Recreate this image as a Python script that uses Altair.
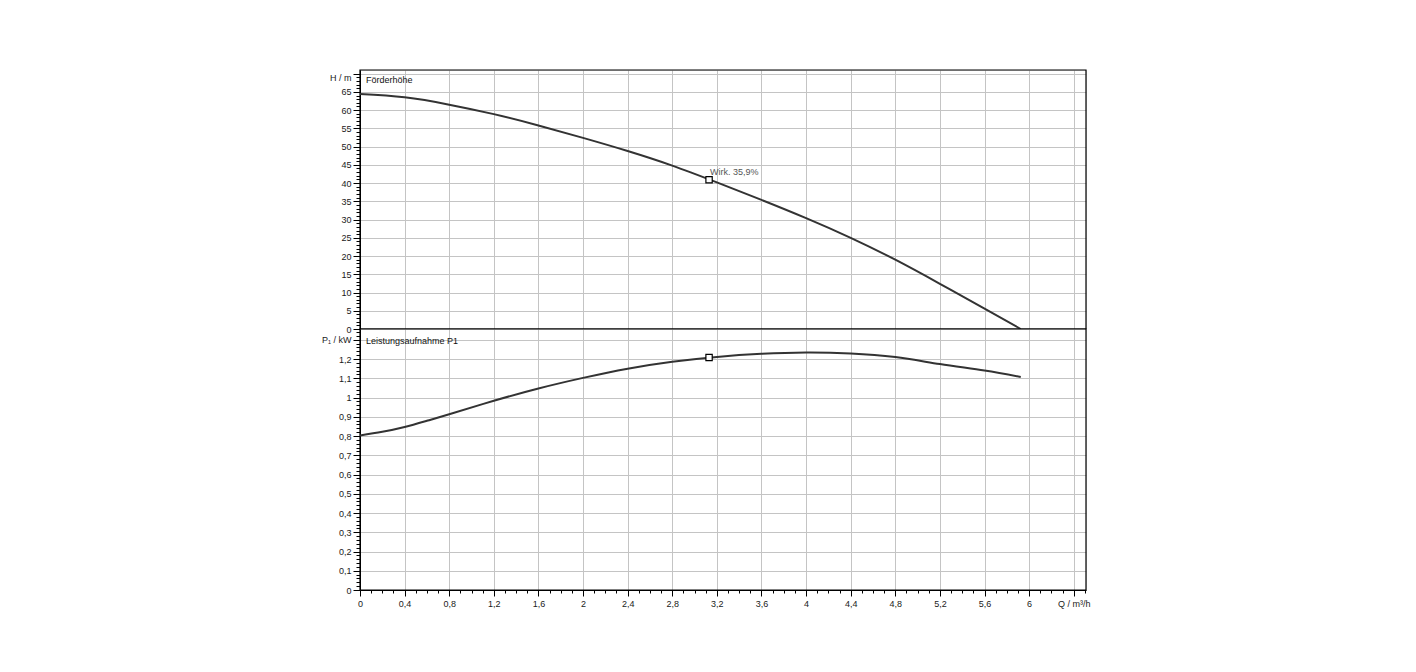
import altair as alt
import pandas as pd

# Förderhöhe H (m) over flow Q (m³/h)
q_h = [0, 0.4, 0.8, 1.2, 1.6, 2.0, 2.4, 2.8, 3.2, 3.6, 4.0, 4.4, 4.8, 5.2, 5.6, 5.925]
h_vals = [64.4, 63.5, 61.5, 58.9, 55.8, 52.4, 48.8, 44.8, 40.2, 35.4, 30.4, 25.0, 19.0, 12.4, 5.6, 0.0]

# Leistungsaufnahme P1 (kW) over flow Q
q_p = [0, 0.2, 0.4, 0.6, 0.8, 1.2, 1.6, 2.0, 2.4, 2.8, 3.2, 3.6, 4.0, 4.4, 4.8, 5.2, 5.6, 5.925]
p_vals = [0.803, 0.822, 0.847, 0.879, 0.913, 0.983, 1.047, 1.102, 1.150, 1.186, 1.211, 1.227, 1.234, 1.229, 1.210, 1.174, 1.140, 1.107]

# operating point
op_q = [3.13]
op_h = [40.9]
op_p = [1.208]
op_label = ["Wirk.  35,9%"]

# axis ranges
q_range = [0, 6.51]
h_range = [0, 71]
p_range = [0, 1.356]

x_ticks = [round(i * 0.1, 1) for i in range(66)]
h_ticks = list(range(0, 71))
p_ticks = [round(i * 0.02, 2) for i in range(68)]

FONT = "Liberation Sans"
LINE = "#333333"
GRID = "#c4c4c4"
W, H1, H2 = 726, 259, 261

df_h = pd.DataFrame({"Q": q_h, "H": h_vals})
df_p = pd.DataFrame({"Q": q_p, "P": p_vals})
df_op = pd.DataFrame({"Q": op_q, "H": op_h, "P": op_p, "label": op_label})
df_t1 = pd.DataFrame({"Q": [0], "H": [70], "label": ["Förderhöhe"]})
df_t2 = pd.DataFrame({"Q": [0], "P": [1.3], "label": ["Leistungsaufnahme P1"]})
df_f1 = pd.DataFrame({"Q": [q_range[0]], "Q2": [q_range[1]], "H": [h_range[0]], "H2": [h_range[1]]})
df_f2 = pd.DataFrame({"Q": [q_range[0]], "Q2": [q_range[1]], "P": [p_range[0]], "P2": [p_range[1]]})

x_major = "abs(datum.value/0.4 - round(datum.value/0.4)) < 0.000001"
h_major = "datum.value % 5 == 0"
p_major = "abs(datum.value*10 - round(datum.value*10)) < 0.000001"

xscale = alt.Scale(domain=q_range, nice=False, zero=False)
hscale = alt.Scale(domain=h_range, nice=False)
pscale = alt.Scale(domain=p_range, nice=False)

x_axis_top = alt.Axis(
    title=None, labels=False, ticks=False, domain=False,
    values=x_ticks, gridColor=GRID, minExtent=0, maxExtent=0, offset=0,
    gridOpacity={"condition": {"test": x_major + " && datum.value > 0", "value": 1}, "value": 0},
)
x_axis_bottom = alt.Axis(
    title=None, values=x_ticks, gridColor=GRID,
    gridOpacity={"condition": {"test": x_major + " && datum.value > 0", "value": 1}, "value": 0},
    tickSize={"condition": {"test": x_major, "value": 6}, "value": 3},
    labelExpr=("(" + x_major + ") ? (abs(datum.value-6.4) < 0.000001 ? 'Q / m³/h' : "
               "replace(format(datum.value, '~g'), '.', ',')) : ''"),
    labelFlush=False, labelOverlap=False, labelPadding=3,
    domainColor="black", tickColor="black",
    labelFont=FONT, labelFontSize=9, labelColor="#1a1a1a",
)
h_axis = alt.Axis(
    title=None, values=h_ticks, gridColor=GRID,
    gridOpacity={"condition": {"test": h_major + " && datum.value > 0", "value": 1}, "value": 0},
    tickSize={"condition": {"test": h_major, "value": 7}, "value": 4},
    labelExpr="(" + h_major + ") ? (datum.value == 70 ? 'H / m' : datum.label) : ''",
    labelOffset={"condition": {"test": "datum.value == 70", "value": 4}, "value": 0},
    labelOverlap=False, labelFlush=False, labelPadding=2,
    domainColor="black", tickColor="black",
    labelFont=FONT, labelFontSize=9, labelColor="#1a1a1a",
)
p_axis = alt.Axis(
    title=None, values=p_ticks, gridColor=GRID,
    gridOpacity={"condition": {"test": p_major + " && datum.value > 0", "value": 1}, "value": 0},
    tickSize={"condition": {"test": p_major, "value": 7}, "value": 4},
    labelExpr=("(" + p_major + ") ? (abs(datum.value-1.3) < 0.000001 ? 'P₁ / kW' : "
               "replace(format(datum.value, '~g'), '.', ',')) : ''"),
    labelOverlap=False, labelFlush=False, labelPadding=2,
    domainColor="black", tickColor="black",
    labelFont=FONT, labelFontSize=9, labelColor="#1a1a1a",
)

XT = alt.X("Q:Q", scale=xscale, axis=x_axis_top)
YT = alt.Y("H:Q", scale=hscale, axis=h_axis)
XB = alt.X("Q:Q", scale=xscale, axis=x_axis_bottom)
YB = alt.Y("P:Q", scale=pscale, axis=p_axis)

top_frame = alt.Chart(df_f1).mark_rect(fill="transparent", stroke="black", strokeWidth=1.2).encode(
    x=XT, x2="Q2:Q", y=YT, y2="H2:Q")
top_line = alt.Chart(df_h).mark_line(color=LINE, strokeWidth=2, interpolate="natural").encode(x=XT, y=YT)
top_pt = alt.Chart(df_op).mark_point(shape="square", size=40, filled=True, fill="white",
                                     stroke="black", strokeWidth=1.2, opacity=1).encode(x=XT, y=YT)
top_lbl = alt.Chart(df_op).mark_text(align="left", baseline="middle", dx=1, dy=-8,
                                     font=FONT, fontSize=9, color="#555555").encode(x=XT, y=YT, text="label:N")
top_title = alt.Chart(df_t1).mark_text(align="left", baseline="middle", dx=6, dy=6,
                                       font=FONT, fontSize=9, color="#111111").encode(x=XT, y=YT, text="label:N")
top = alt.layer(top_frame, top_line, top_pt, top_lbl, top_title).properties(width=W, height=H1)

bot_frame = alt.Chart(df_f2).mark_rect(fill="transparent", stroke="black", strokeWidth=1.2).encode(
    x=XB, x2="Q2:Q", y=YB, y2="P2:Q")
bot_line = alt.Chart(df_p).mark_line(color=LINE, strokeWidth=2, interpolate="natural").encode(x=XB, y=YB)
bot_pt = alt.Chart(df_op).mark_point(shape="square", size=40, filled=True, fill="white",
                                     stroke="black", strokeWidth=1.2, opacity=1).encode(x=XB, y=YB)
bot_title = alt.Chart(df_t2).mark_text(align="left", baseline="middle", dx=6, dy=1,
                                       font=FONT, fontSize=9, color="#111111").encode(x=XB, y=YB, text="label:N")
bottom = alt.layer(bot_frame, bot_line, bot_pt, bot_title).properties(width=W, height=H2)

chart = alt.vconcat(top, bottom, spacing=0, bounds="flush").properties(
    padding={"left": 312, "top": 60, "right": 10, "bottom": 10}
).configure_view(stroke="black", strokeWidth=1.4).configure(background="white")

chart.save("out.html", embed_options={"renderer": "svg", "actions": False})
